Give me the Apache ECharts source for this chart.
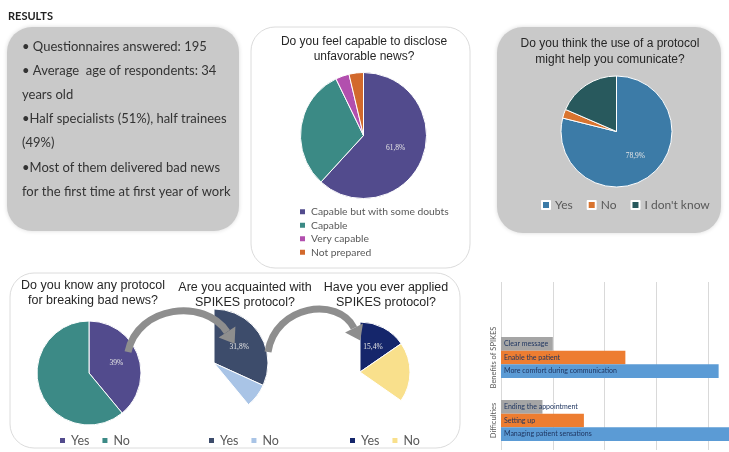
<!DOCTYPE html>
<html>
<head>
<meta charset="utf-8">
<script src="https://cdn.jsdelivr.net/npm/echarts@6/dist/echarts.min.js"></script>
<style>
html,body{margin:0;padding:0;background:#fff;}
#chart{width:729px;height:452px;}
</style>
</head>
<body>
<div id="chart"></div>
<script>
// ---- data ----
const summaryLines = [
  '• Questionnaires answered: 195',
  '• Average  age of respondents: 34',
  'years old',
  '•Half specialists (51%), half trainees',
  '(49%)',
  '•Most of them delivered bad news',
  'for the first time at first year of work'
];
const capableNames = ['Capable but with some doubts', 'Capable', 'Very capable', 'Not prepared'];
const capableValues = [61.8, 31.0, 3.5, 3.7];
const helpNames = ['Yes', 'No', "I don't know"];
const helpValues = [78.9, 2.6, 18.5];
const knowNames = ['Yes', 'No'];
const knowValues = [39, 61];
const spikesNames = ['Yes', 'No'];
const spikesValues = [31.8, 7.2];
const spikesHidden = 61.0;
const appliedNames = ['Yes', 'No'];
const appliedValues = [15.4, 19.3];
const appliedHidden = 65.3;
const barCategories = ['Difficulties', 'Benefits of SPIKES'];
const grayLabels = ['Ending the appointment', 'Clear message'];
const grayValues = [8, 10];
const orangeLabels = ['Setting up', 'Enable the patient'];
const orangeValues = [16, 24];
const blueLabels = ['Managing patient sensations', 'More comfort during communication'];
const blueValues = [46, 42];

// ---- styles ----
const capableColors = ['#524b8d', '#3b8a85', '#b24fae', '#d2692c'];
const helpColors = ['#3c7ba7', '#d9742f', '#28595d'];
const knowColors = ['#524b8d', '#3c8a86'];
const spikesColors = ['#3d4c6b', '#a9c4e6'];
const appliedColors = ['#15266b', '#f9e08c'];
const sansA = 'Liberation Sans';
const sansB = 'Lato';

function pct(v) { return String(v).replace('.', ',') + '%'; }

function pieData(names, values, colors, hidden) {
  const d = names.map((n, i) => ({
    name: n, value: values[i],
    itemStyle: { color: colors[i] },
    label: { show: i === 0 }
  }));
  if (hidden !== undefined) {
    d.push({ name: '', value: hidden, itemStyle: { color: 'transparent', borderWidth: 0 }, label: { show: false }, silent: true });
  }
  return d;
}

function pieSeries(names, values, colors, center, radius, hidden) {
  return {
    type: 'pie', center: center, radius: radius, startAngle: 90, clockwise: true,
    avoidLabelOverlap: false, animation: false, silent: true,
    itemStyle: { borderColor: '#ffffff', borderWidth: 1 },
    label: { show: false, position: 'inside', formatter: p => pct(p.value), fontFamily: 'Liberation Serif', fontSize: 7.5, color: '#e6e6e6' },
    labelLine: { show: false },
    emphasis: { disabled: true },
    data: pieData(names, values, colors, hidden)
  };
}

function legendData(names, colors) {
  return names.map((n, i) => ({ name: n, itemStyle: { color: colors[i] } }));
}

function legendOpt(names, colors, left, top, extra) {
  return Object.assign({
    data: legendData(names, colors), orient: 'horizontal', left: left, top: top, padding: 0,
    itemWidth: 7, itemHeight: 7, itemGap: 11, icon: 'rect', selectedMode: false,
    textStyle: { fontFamily: sansB, fontSize: 12.5, color: '#595959' }
  }, extra || {});
}

function titleOpt(text, x, top, size, lh) {
  return { text: text, left: x, top: top, textAlign: 'center', padding: 0,
    textStyle: { fontFamily: sansA, fontSize: size, fontWeight: 'normal', color: '#262626', lineHeight: lh } };
}

const graphics = [
  { type: 'rect', shape: { x: 7, y: 27, width: 232, height: 204, r: 25 }, style: { fill: '#c9c9c9', shadowBlur: 4, shadowColor: 'rgba(0,0,0,0.15)' }, z: -10 },
  { type: 'rect', shape: { x: 251, y: 27, width: 219, height: 241, r: 24 }, style: { fill: '#ffffff', stroke: '#dcdcdc', lineWidth: 1 }, z: -10 },
  { type: 'rect', shape: { x: 497, y: 27, width: 224, height: 206, r: 26 }, style: { fill: '#c9c9c9', shadowBlur: 4, shadowColor: 'rgba(0,0,0,0.15)' }, z: -10 },
  { type: 'rect', shape: { x: 10, y: 273, width: 450, height: 175, r: 24 }, style: { fill: '#ffffff', stroke: '#dcdcdc', lineWidth: 1 }, z: -10 },
  { type: 'text', x: 8, y: 16, style: { text: 'RESULTS', font: 'bold 11px ' + sansB, fill: '#222', verticalAlign: 'middle' } }
];
const lineYs = [47, 71, 95, 119, 143, 168, 192];
summaryLines.forEach((t, i) => {
  graphics.push({ type: 'text', x: 22, y: lineYs[i], style: { text: t, font: '13px ' + sansB, fill: '#333', verticalAlign: 'middle' } });
});
// curved arrows
function arrow(p0, c1, c2, p1) {
  const dx = p1[0] - c2[0], dy = p1[1] - c2[1];
  const L = Math.sqrt(dx * dx + dy * dy), ux = dx / L, uy = dy / L;
  const px = uy, py = -ux;
  const tip = [p1[0] + ux * 14, p1[1] + uy * 14];
  return [
    { type: 'bezierCurve', z: 20, shape: { x1: p0[0], y1: p0[1], cpx1: c1[0], cpy1: c1[1], cpx2: c2[0], cpy2: c2[1], x2: p1[0], y2: p1[1] }, style: { stroke: '#8e8e8e', lineWidth: 7, fill: null } },
    { type: 'polygon', z: 20, shape: { points: [tip, [p1[0] + px * 10, p1[1] + py * 10], [p1[0] - px * 10, p1[1] - py * 10]] }, style: { fill: '#8e8e8e' } }
  ];
}
graphics.push(...arrow([128, 352], [138, 305], [205, 298], [227, 332]));
graphics.push(...arrow([268, 352], [275, 305], [338, 296], [354, 328]));

const option = {
  animation: false,
  backgroundColor: '#ffffff',
  graphic: graphics,
  title: [
    titleOpt('Do you feel capable to disclose\nunfavorable news?', 364, 34, 12, 15),
    titleOpt('Do you think the use of a protocol\nmight help you comunicate?', 610, 36, 12, 16),
    titleOpt('Do you know any protocol\nfor breaking bad news?', 93, 278, 12.5, 15),
    titleOpt('Are you acquainted with\nSPIKES protocol?', 245, 280, 12.5, 15),
    titleOpt('Have you ever applied\nSPIKES protocol?', 386, 280, 12.5, 15)
  ],
  legend: [
    legendOpt(capableNames, capableColors, 298, 205, { orient: 'vertical', itemGap: 0, textStyle: { fontFamily: sansB, fontSize: 10.3, color: '#595959', lineHeight: 13.5 } }),
    legendOpt(helpNames, helpColors, 541, 199, { itemWidth: 8, itemHeight: 8, itemGap: 14, textStyle: { fontFamily: sansB, fontSize: 12, color: '#595959' } }),
    legendOpt(knowNames, knowColors, 58, 434),
    legendOpt(spikesNames, spikesColors, 207, 434),
    legendOpt(appliedNames, appliedColors, 348, 434)
  ],
  grid: [
    { left: 501, right: 0, top: 282, bottom: 2, containLabel: false },
    { left: 501, right: 0, top: 326, bottom: 0, containLabel: false }
  ],
  xAxis: [
    { gridIndex: 0, type: 'value', min: 0, max: 44, interval: 10, axisLabel: { show: false }, axisLine: { show: false }, axisTick: { show: false }, splitLine: { show: true, lineStyle: { color: '#d9d9d9', width: 1 } } },
    { gridIndex: 1, type: 'value', min: 0, max: 44, interval: 10, show: false, splitLine: { show: false } }
  ],
  yAxis: [
    { gridIndex: 0, type: 'category', data: [''], show: false },
    { gridIndex: 1, type: 'category', data: barCategories, axisLine: { show: false }, axisTick: { show: false }, splitLine: { show: false },
      axisLabel: { interval: 0, rotate: 90, fontFamily: sansB, fontSize: 7.5, color: '#595959', margin: 3 } }
  ],
  series: [
    pieSeries(capableNames, capableValues, capableColors, [363.5, 135.5], 63),
    pieSeries(helpNames, helpValues, helpColors, [616.5, 131.5], 55.5),
    pieSeries(knowNames, knowValues, knowColors, [89, 373], 52),
    pieSeries(spikesNames, spikesValues, spikesColors, [214, 363], 54, spikesHidden),
    pieSeries(appliedNames, appliedValues, appliedColors, [360, 372], 50, appliedHidden),
    { type: 'bar', xAxisIndex: 0, yAxisIndex: 0, data: [] },
    { type: 'bar', name: 'gray', xAxisIndex: 1, yAxisIndex: 1, data: grayValues, barGap: '0%', barCategoryGap: '35%', itemStyle: { color: '#a5a5a5' },
      label: { show: true, position: 'insideLeft', distance: 3, formatter: p => grayLabels[p.dataIndex], fontFamily: sansB, fontSize: 7, color: '#1f3560' } },
    { type: 'bar', name: 'orange', xAxisIndex: 1, yAxisIndex: 1, data: orangeValues, barGap: '0%', barCategoryGap: '35%', itemStyle: { color: '#ed7d31' },
      label: { show: true, position: 'insideLeft', distance: 3, formatter: p => orangeLabels[p.dataIndex], fontFamily: sansB, fontSize: 7, color: '#1f3560' } },
    { type: 'bar', name: 'blue', xAxisIndex: 1, yAxisIndex: 1, data: blueValues, barGap: '0%', barCategoryGap: '35%', itemStyle: { color: '#5b9bd5' },
      label: { show: true, position: 'insideLeft', distance: 3, formatter: p => blueLabels[p.dataIndex], fontFamily: sansB, fontSize: 7, color: '#1f3560' } }
  ]
};
const chart = echarts.init(document.getElementById('chart'), null, { renderer: 'canvas' });
chart.setOption(option);
</script>
</body>
</html>
